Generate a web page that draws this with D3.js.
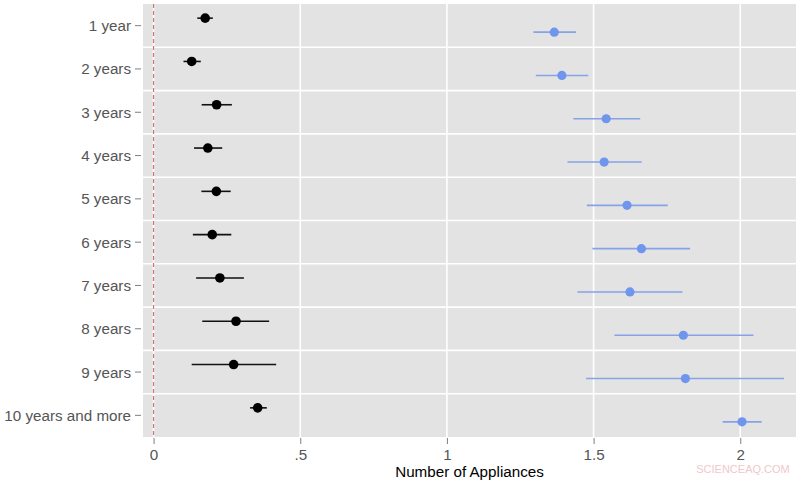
<!DOCTYPE html>
<html>
<head>
<meta charset="utf-8">
<script src="https://cdn.jsdelivr.net/npm/d3@7"></script>
<style>
  body { margin: 0; background: #fff; }
  svg { font-family: "Liberation Sans", Arial, sans-serif; }
</style>
</head>
<body>
<div id="chart"></div>
<script>
// categorias (eje y)
var categories = ["1 year", "2 years", "3 years", "4 years", "5 years",
  "6 years", "7 years", "8 years", "9 years", "10 years and more"];

// serie negra: estimacion e intervalo
var blackMean = [0.176, 0.130, 0.215, 0.185, 0.214, 0.200, 0.226, 0.281, 0.273, 0.355];
var blackLow  = [0.149, 0.102, 0.164, 0.138, 0.163, 0.134, 0.145, 0.166, 0.130, 0.329];
var blackHigh = [0.202, 0.161, 0.267, 0.234, 0.263, 0.265, 0.308, 0.394, 0.418, 0.386];

// serie azul
var blueMean = [1.366, 1.392, 1.543, 1.536, 1.614, 1.663, 1.624, 1.806, 1.813, 2.006];
var blueLow  = [1.295, 1.303, 1.431, 1.411, 1.477, 1.496, 1.445, 1.571, 1.474, 1.940];
var blueHigh = [1.440, 1.482, 1.659, 1.664, 1.753, 1.829, 1.803, 2.045, 2.149, 2.073];

// ticks del eje x
var xTicks = [0, 0.5, 1, 1.5, 2];
var xTickLabels = ["0", ".5", "1", "1.5", "2"];

var width = 800, height = 480;
var mLeft = 143, mRight = 796, mTop = 4, mBottom = 437;

var svg = d3.select("#chart").append("svg")
  .attr("width", width)
  .attr("height", height);

var x = d3.scaleLinear().domain([-0.036, 2.19]).range([mLeft, mRight]);
var y = d3.scaleBand().domain(categories).range([mTop, mBottom]).padding(0);
// desplazamiento de cada serie dentro de la banda
var dodge = d3.scalePoint().domain(["black", "blue"]).range([-7.5, 6.5]);

// panel gris
svg.append("rect")
  .attr("x", mLeft).attr("y", mTop)
  .attr("width", mRight - mLeft).attr("height", mBottom - mTop)
  .attr("fill", "#e3e3e3");

// lineas de la rejilla vertical
svg.append("g").selectAll("line")
  .data(xTicks).enter().append("line")
  .attr("x1", d => x(d)).attr("x2", d => x(d))
  .attr("y1", mTop).attr("y2", mBottom)
  .attr("stroke", "#fff").attr("stroke-width", 1.6);

// lineas horizontales entre categorias
svg.append("g").selectAll("line")
  .data(categories.slice(1)).enter().append("line")
  .attr("x1", mLeft).attr("x2", mRight)
  .attr("y1", d => y(d)).attr("y2", d => y(d))
  .attr("stroke", "#fff").attr("stroke-width", 1.6);

// linea de referencia en cero
svg.append("line")
  .attr("x1", x(0)).attr("x2", x(0))
  .attr("y1", mTop).attr("y2", mBottom)
  .attr("stroke", "#d27272").attr("stroke-width", 1.2)
  .attr("stroke-dasharray", "4,3");

// dibuja una serie con sus intervalos
function drawSeries(name, mean, low, high, lineColor, dotColor, r) {
  var rows = categories.map((c, i) => ({cat: c, m: mean[i], lo: low[i], hi: high[i]}));
  var g = svg.append("g");
  g.selectAll("line").data(rows).enter().append("line")
    .attr("x1", d => x(d.lo)).attr("x2", d => x(d.hi))
    .attr("y1", d => y(d.cat) + y.bandwidth() / 2 + dodge(name))
    .attr("y2", d => y(d.cat) + y.bandwidth() / 2 + dodge(name))
    .attr("stroke", lineColor).attr("stroke-width", 1.6);
  g.selectAll("circle").data(rows).enter().append("circle")
    .attr("cx", d => x(d.m))
    .attr("cy", d => y(d.cat) + y.bandwidth() / 2 + dodge(name))
    .attr("r", r)
    .attr("fill", dotColor);
}

drawSeries("black", blackMean, blackLow, blackHigh, "#111", "#000", 4.8);
drawSeries("blue", blueMean, blueLow, blueHigh, "#86a3e8", "#6f95ec", 4.6);

// eje y
var yAxis = svg.append("g")
  .attr("transform", "translate(" + (mLeft - 2) + ",0)")
  .call(d3.axisLeft(y).tickSize(6).tickPadding(4));
yAxis.select(".domain").remove();
yAxis.selectAll("line").attr("stroke", "#7f7f7f");
yAxis.selectAll("text")
  .attr("fill", "#555").style("font-size", "15.2px")
  .attr("dy", "0.36em");

// eje x
var xAxis = svg.append("g")
  .attr("transform", "translate(0," + (mBottom + 1) + ")")
  .call(d3.axisBottom(x).tickValues(xTicks)
    .tickFormat((d, i) => xTickLabels[i]).tickSize(6).tickPadding(5));
xAxis.select(".domain").remove();
xAxis.selectAll("line").attr("stroke", "#7f7f7f");
xAxis.selectAll("text")
  .attr("fill", "#555").style("font-size", "15.2px");

// titulo del eje x
svg.append("text")
  .attr("x", (mLeft + mRight) / 2).attr("y", 477)
  .attr("text-anchor", "middle")
  .style("font-size", "15.2px")
  .attr("fill", "#000")
  .text("Number of Appliances");

// marca de agua
svg.append("text")
  .attr("x", 743).attr("y", 473)
  .attr("text-anchor", "middle")
  .style("font-size", "11px")
  .attr("fill", "#f0c8cc")
  .text("SCIENCEAQ.COM");
</script>
</body>
</html>
